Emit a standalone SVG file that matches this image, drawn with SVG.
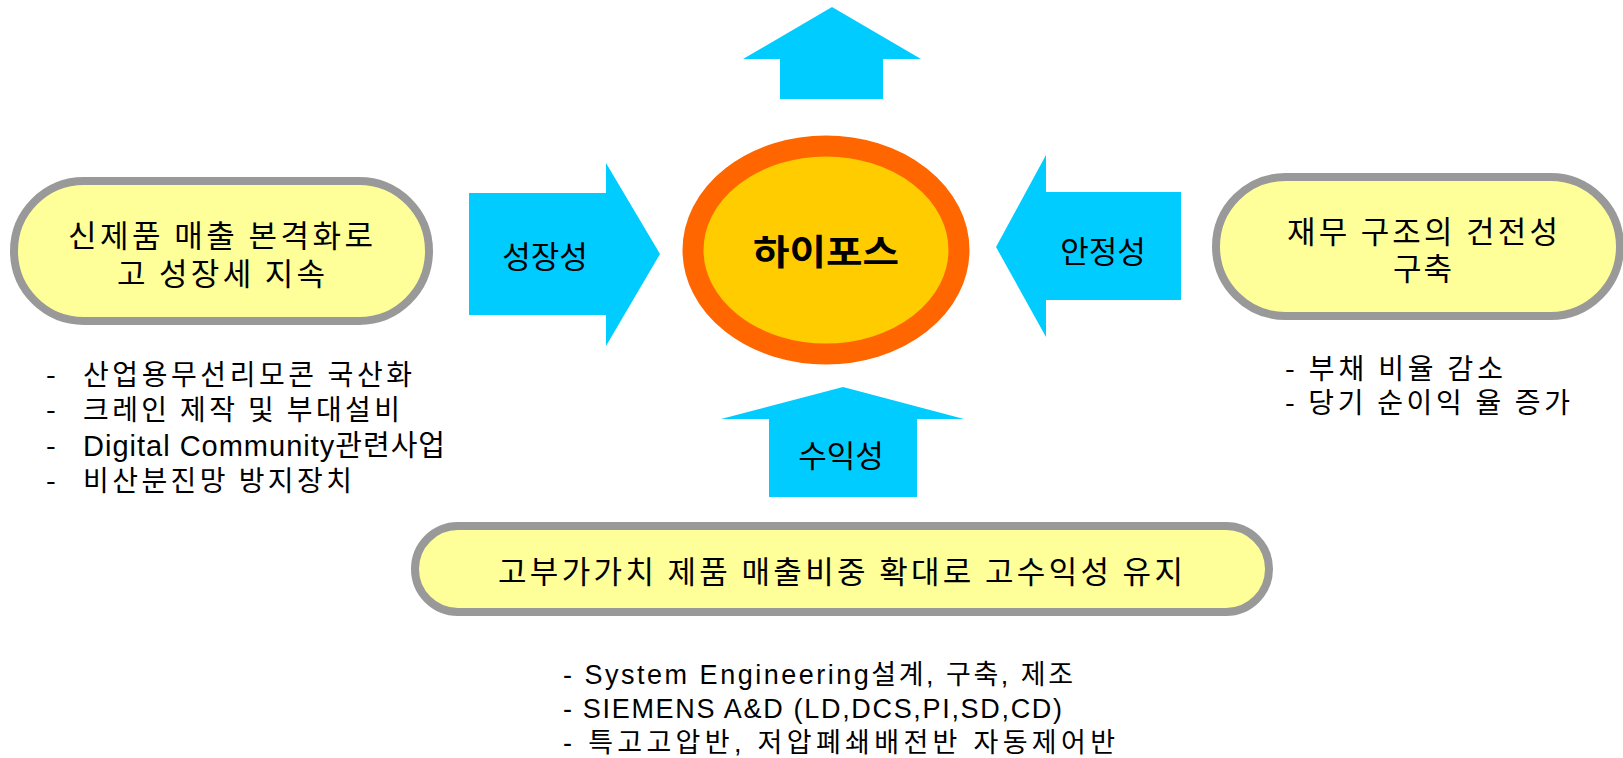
<svg xmlns="http://www.w3.org/2000/svg" width="1623" height="758" viewBox="0 0 1623 758">
<style>
.pill{fill:#FFFF99;stroke:#999999;stroke-width:8}
.arrow{fill:#00CCFF}
.t{font-family:"Noto Sans CJK KR","Liberation Sans",sans-serif;fill:#000}
.pt{font-size:31px}
.bt{font-size:28px}
.bb{font-family:"Liberation Sans","Noto Sans CJK KR",sans-serif;font-size:27px;fill:#000}
.lb{font-size:31px;text-anchor:middle}
.center{font-size:35px;font-weight:bold}
</style>
<rect width="1623" height="758" fill="#FFFFFF"/>
<g id="connectors">
<polygon class="arrow" points="832,7 921,59 883,59 883,99 780,99 780,59 743,59"/>
<polygon class="arrow" points="469,193 606,193 606,163 660,254 606,346 606,315 469,315"/>
<polygon class="arrow" points="996,247 1046,155 1046,192 1181,192 1181,300 1046,300 1046,337"/>
<polygon class="arrow" points="843,387 964,419 917,419 917,497 769,497 769,419 721,419"/>
<text class="t lb" x="545" y="268">성장성</text>
<text class="t lb" x="1103" y="263">안정성</text>
<text class="t lb" x="841" y="467">수익성</text>
</g>
<g id="hipos">
<ellipse cx="826" cy="250" rx="133" ry="104" fill="#FFCC00" stroke="#FF6600" stroke-width="21"/>
<text class="t center" x="753" y="265" textLength="146" lengthAdjust="spacingAndGlyphs">하이포스</text>
</g>
<g id="growth">
<rect class="pill" x="14" y="181" width="415" height="140" rx="70" ry="70"/>
<text class="t pt"><tspan x="68" y="247" textLength="305" lengthAdjust="spacing">신제품 매출 본격화로</tspan><tspan x="117" y="285" textLength="208" lengthAdjust="spacing">고 성장세 지속</tspan></text>
</g>
<g id="growth-items">
<text class="t bt"><tspan x="46" y="385">-</tspan><tspan x="83" y="385" textLength="329" lengthAdjust="spacing">산업용무선리모콘 국산화</tspan><tspan x="46" y="420">-</tspan><tspan x="83" y="420" textLength="317" lengthAdjust="spacing">크레인 제작 및 부대설비</tspan><tspan x="46" y="456">-</tspan><tspan x="83" y="456" textLength="362" lengthAdjust="spacing" style="font-family:'Liberation Sans','Noto Sans CJK KR',sans-serif;font-size:29px">Digital Community관련사업</tspan><tspan x="46" y="491">-</tspan><tspan x="83" y="491" textLength="269" lengthAdjust="spacing">비산분진망 방지장치</tspan></text>
</g>
<g id="stability">
<rect class="pill" x="1216" y="177" width="404" height="139" rx="69.5" ry="69.5"/>
<text class="t pt"><tspan x="1287" y="243" textLength="271" lengthAdjust="spacing">재무 구조의 건전성</tspan><tspan x="1393" y="280" textLength="59" lengthAdjust="spacing">구축</tspan></text>
</g>
<g id="stability-items">
<text class="t bt"><tspan x="1285" y="379" textLength="218" lengthAdjust="spacing">- 부채 비율 감소</tspan><tspan x="1285" y="413" textLength="285" lengthAdjust="spacing">- 당기 순이익 율 증가</tspan></text>
</g>
<g id="profit">
<rect class="pill" x="415" y="526" width="854" height="86" rx="43" ry="43"/>
<text class="t pt" x="498" y="583" textLength="685" lengthAdjust="spacing">고부가가치 제품 매출비중 확대로 고수익성 유지</text>
</g>
<g id="profit-items">
<text class="bb"><tspan x="563" y="684" textLength="510" lengthAdjust="spacing">- System Engineering설계, 구축, 제조</tspan><tspan x="563" y="718" textLength="499" lengthAdjust="spacing">- SIEMENS A&amp;D (LD,DCS,PI,SD,CD)</tspan><tspan x="563" y="752" textLength="552" lengthAdjust="spacing">- 특고고압반, 저압폐쇄배전반 자동제어반</tspan></text>
</g>
</svg>
